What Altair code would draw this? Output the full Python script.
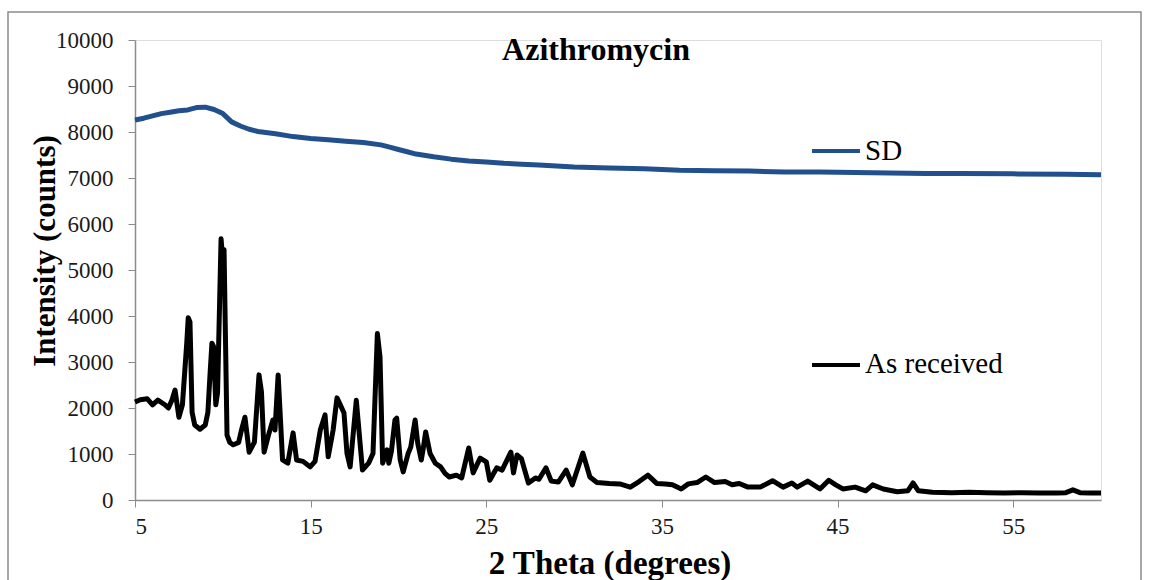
import altair as alt
import pandas as pd

# ---- data ----
as_recv_x = [5.0, 5.3, 5.7, 6.0, 6.3, 6.7, 6.9, 7.1, 7.28, 7.5, 7.7, 7.95, 8.03, 8.13, 8.25, 8.4, 8.7, 9.0,
             9.15, 9.27, 9.38, 9.47, 9.6, 9.7, 9.9, 9.98, 10.07, 10.24, 10.4, 10.6, 10.9, 11.05, 11.26, 11.5,
             11.8, 12.06, 12.2, 12.35, 12.6, 12.85, 12.97, 13.15, 13.4, 13.7, 14.0, 14.2, 14.57, 14.97, 15.25,
             15.55, 15.82, 16.0, 16.28, 16.5, 16.65, 16.9, 17.07, 17.25, 17.6, 17.95, 18.3, 18.55, 18.8, 18.95,
             19.1, 19.35, 19.45, 19.6, 19.8, 19.9, 20.1, 20.27, 20.55, 20.7, 20.95, 21.1, 21.3, 21.4, 21.55,
             21.8, 22.1, 22.4, 22.65, 22.9, 23.3, 23.6, 24.0, 24.25, 24.65, 25.0, 25.2, 25.6, 25.9, 26.4, 26.55,
             26.75, 27.0, 27.4, 27.8, 28.0, 28.4, 28.7, 29.1, 29.55, 29.9, 30.5, 30.9, 31.3, 32.0, 32.6, 33.2,
             33.7, 34.2, 34.7, 35.2, 35.6, 36.1, 36.5, 37.0, 37.5, 38.0, 38.6, 39.0, 39.4, 39.9, 40.6, 41.3,
             41.9, 42.4, 42.7, 43.3, 44.0, 44.5, 44.9, 45.3, 46.0, 46.6, 47.0, 47.6, 48.4, 49.0, 49.3, 49.6,
             50.4, 51.5, 52.5, 53.5, 54.5, 55.5, 56.5, 57.5, 58.0, 58.4, 58.8, 59.4, 60.0]
as_recv_y = [2130, 2180, 2200, 2070, 2170, 2070, 2000, 2170, 2390, 1800, 2070, 3430, 3960, 3870, 1910, 1630, 1540, 1630,
             1910, 2720, 3410, 3340, 2070, 2330, 5680, 5300, 5440, 1410, 1250, 1200, 1250, 1500, 1800, 1040,
             1260, 2720, 2350, 1040, 1410, 1740, 1520, 2720, 870, 800, 1460, 870, 840, 720, 840,
             1520, 1850, 940, 1520, 2220, 2100, 1890, 1010, 720, 2170, 650, 800, 1010, 3620, 3110,
             800, 1090, 800, 1060, 1740, 1780, 870, 610, 1010, 1150, 1740, 1230, 870, 1090, 1480,
             1010, 800, 720, 580, 500, 540, 480, 1130, 590, 910, 830, 430, 700, 650, 1040, 590,
             980, 900, 370, 480, 450, 700, 410, 390, 650, 330, 1020, 500, 380, 360, 350, 280,
             400, 540, 360, 350, 330, 240, 350, 380, 500, 380, 400, 330, 360, 280, 280, 420,
             280, 370, 280, 410, 240, 430, 330, 240, 280, 200, 330, 240, 180, 200, 370, 200,
             170, 160, 170, 160, 150, 160, 150, 150, 160, 220, 160, 150, 150]

sd_x = [5.0, 5.5, 6.0, 6.5, 7.0, 7.5, 8.0, 8.5, 9.0, 9.5, 10.0, 10.5, 11.0, 11.5, 12.0, 13.0, 14.0, 15.0,
        16.0, 17.0, 18.0, 19.0, 19.5, 20.0, 20.5, 21.0, 22.0, 23.0, 24.0, 25.0, 26.0, 27.0, 28.0, 30.0,
        32.0, 34.0, 36.0, 38.0, 40.0, 42.0, 44.0, 46.0, 48.0, 50.0, 52.0, 55.0, 58.0, 60.0]
sd_y = [8260, 8300, 8350, 8400, 8430, 8460, 8480, 8530, 8540, 8490, 8400, 8220, 8130, 8060, 8010, 7960, 7900, 7860,
        7830, 7800, 7770, 7720, 7670, 7620, 7570, 7520, 7460, 7410, 7370, 7350, 7320, 7300, 7280, 7240,
        7220, 7200, 7170, 7160, 7150, 7130, 7130, 7120, 7110, 7100, 7100, 7090, 7080, 7070]

series_names = ["SD", "As received"]
series_colors = ["#22508c", "#000000"]
x_ticks = [5, 15, 25, 35, 45, 55]
y_ticks = list(range(0, 10001, 1000))

df = pd.concat([
    pd.DataFrame({"x": sd_x, "y": sd_y, "series": "SD"}),
    pd.DataFrame({"x": as_recv_x, "y": as_recv_y, "series": "As received"}),
])

W, H = 966, 460
serif = "Liberation Serif"
axis_gray = "#8c8c8c"

lines = alt.Chart(df).mark_line(strokeWidth=5, strokeJoin="round").encode(
    x=alt.X("x:Q", scale=alt.Scale(domain=[5, 60], nice=False, zero=False),
            axis=alt.Axis(values=x_ticks, grid=False, title=None, tickSize=7, format="d",
                          domainColor=axis_gray, tickColor=axis_gray, domainWidth=1.5,
                          labelFont=serif, labelFontSize=23, labelColor="#1a1a1a",
                          labelPadding=8)),
    y=alt.Y("y:Q", scale=alt.Scale(domain=[0, 10000], nice=False),
            axis=alt.Axis(values=y_ticks, grid=False, title=None, tickSize=7, format="d",
                          domainColor=axis_gray, tickColor=axis_gray, domainWidth=1.5,
                          labelFont=serif, labelFontSize=23, labelColor="#1a1a1a",
                          labelPadding=15)),
    color=alt.Color("series:N", scale=alt.Scale(domain=series_names, range=series_colors), legend=None),
    detail="series:N",
)

border = alt.Chart(pd.DataFrame({"a": [0]})).mark_rect(
    fill=None, stroke="#8c8c8c", strokeWidth=1.5
).encode(x=alt.value(-127), x2=alt.value(1006), y=alt.value(-28), y2=alt.value(600))

title = alt.Chart(pd.DataFrame({"t": ["Azithromycin"]})).mark_text(
    font=serif, fontSize=32, fontWeight="bold", align="center", baseline="alphabetic", color="black"
).encode(text="t:N", x=alt.value(461), y=alt.value(20))

xtitle = alt.Chart(pd.DataFrame({"t": ["2 Theta (degrees)"]})).mark_text(
    font=serif, fontSize=33, fontWeight="bold", align="center", baseline="alphabetic", color="black"
).encode(text="t:N", x=alt.value(475), y=alt.value(534))

ytitle = alt.Chart(pd.DataFrame({"t": ["Intensity (counts)"]})).mark_text(
    font=serif, fontSize=31, fontWeight="bold", align="center", baseline="alphabetic", angle=270,
    color="black"
).encode(text="t:N", x=alt.value(-80), y=alt.value(211))

leg_df = pd.DataFrame({"series": series_names, "ly": [111, 325], "ty": [120, 333]})
leg_lines = alt.Chart(leg_df).mark_rule(strokeWidth=4).encode(
    x=alt.value(677), x2=alt.value(725),
    y=alt.Y("ly:Q", scale=None),
    color=alt.Color("series:N", scale=alt.Scale(domain=series_names, range=series_colors), legend=None),
)
leg_text = alt.Chart(leg_df).mark_text(
    font=serif, fontSize=29, align="left", baseline="alphabetic", color="black"
).encode(text="series:N", x=alt.value(730), y=alt.Y("ty:Q", scale=None))

chart = alt.layer(border, lines, title, xtitle, ytitle, leg_lines, leg_text).properties(
    width=W, height=H,
    padding={"left": 135, "top": 40, "right": 48, "bottom": 80},
    autosize=alt.AutoSizeParams(type="none"),
).configure_view(stroke=None).configure(background="white")

chart.save("out.html", embed_options={"renderer": "svg", "actions": False})
